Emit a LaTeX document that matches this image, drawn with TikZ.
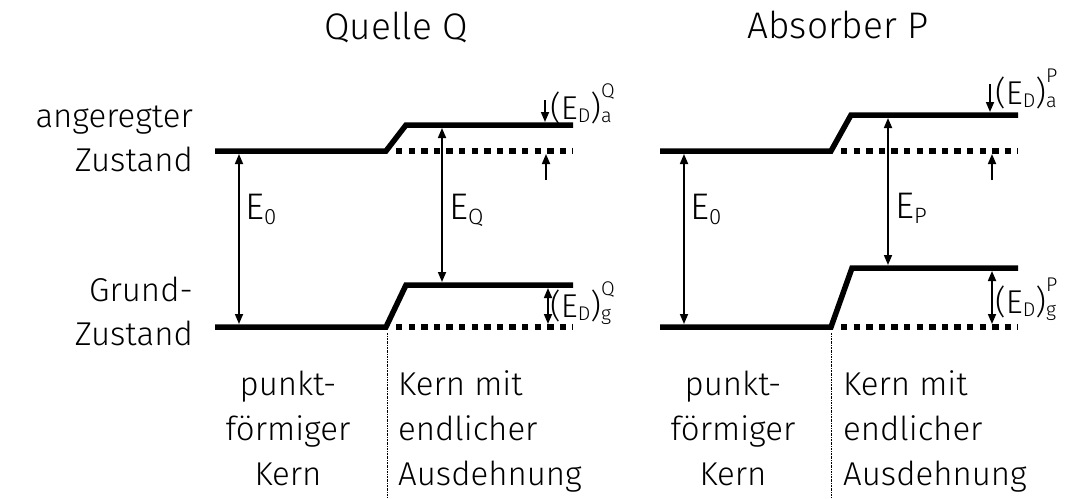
\documentclass[tikz,border=0pt]{standalone}
\usepackage{fontspec}
\setmainfont{Fira Sans}[UprightFont=* Light]
\usepackage{graphicx}
\usetikzlibrary{arrows.meta,positioning}

\newcommand{\idx}[2][-0.16em]{\raisebox{#1}{\scalebox{0.6}{#2}}}
\newcommand{\supidx}[2]{\rlap{\raisebox{0.64em}{\scalebox{0.6}{#1}}}\raisebox{-0.12em}{\scalebox{0.6}{#2}}}

\begin{document}
\begin{tikzpicture}[x=1pt, y=-1pt,
  level/.style={line width=5.5pt, line join=miter},
  shifted/.style={line width=5.5pt, dash pattern=on 6.4pt off 6.2pt},
  energy/.style={line width=1.7pt, {Triangle[length=10pt,width=8pt]}-{Triangle[length=10pt,width=8pt]}},
  tick/.style={line width=1.7pt, -{Triangle[length=10pt,width=8pt]}},
  border/.style={line width=0.9pt, dash pattern=on 2pt off 1pt on 0.6pt off 1pt},
  txt/.style={font=\fontsize{33}{45}\selectfont, inner sep=0pt},
  row/.style={font=\fontsize{33}{43.5}\selectfont, inner sep=0pt, anchor=base east, align=right},
  title/.style={font=\fontsize{37}{40}\selectfont, inner sep=0pt, anchor=base},
  elab/.style={font=\fontsize{37}{40}\selectfont, inner sep=0pt, anchor=base west},
  dlab/.style={font=\fontsize{33}{35}\selectfont, inner sep=0pt, anchor=base west}]
\useasboundingbox (0,0) rectangle (1065,498);

% titles and row labels
\node[title] (tQ) at (396,39) {Quelle Q};
\node[title] (tP) at (838,38) {Absorber P};
\node[row] (exc) at (193,171) {angeregter\\Zustand};
\node[row] (gnd) at (193,345) {Grund-\\Zustand};

% Quelle Q: levels
\coordinate (Qa0) at (215,151); \coordinate (Qa1) at (386,151);
\coordinate (Qa2) at (406,125); \coordinate (Qa3) at (573,125);
\coordinate (Qd0) at (396,151); \coordinate (Qd1) at (573,151);
\coordinate (Qg0) at (215,327); \coordinate (Qg1) at (386,327);
\coordinate (Qg2) at (406,285); \coordinate (Qg3) at (573,285);
\coordinate (Qh0) at (396,327); \coordinate (Qh1) at (573,327);
\draw[level] (Qa0) -- (Qa1) -- (Qa2) -- (Qa3);
\draw[shifted] (Qd0) -- (Qd1);
\draw[level] (Qg0) -- (Qg1) -- (Qg2) -- (Qg3);
\draw[shifted] (Qh0) -- (Qh1);

% Quelle Q: energies
\coordinate (QE0a) at (239,154); \coordinate (QE0g) at (239,324);
\coordinate (QEa) at (442,128); \coordinate (QEg) at (442,282);
\draw[energy] (QE0a) -- (QE0g);
\draw[energy] (QEa) -- (QEg);
\node[elab] (QE0) at (245,219) {E\idx{0}};
\node[elab] (QE) at (449,219) {E\idx{Q}};
\coordinate (Qda0) at (545,100); \coordinate (Qda1) at (545,122);
\coordinate (Qdb0) at (546,180); \coordinate (Qdb1) at (546,154);
\coordinate (Qdg0) at (548,288); \coordinate (Qdg1) at (548,324);
\draw[tick] (Qda0) -- (Qda1);
\draw[tick] (Qdb0) -- (Qdb1);
\draw[energy] (Qdg0) -- (Qdg1);
\node[dlab] (QDa) at (550,119) {(E\idx[-0.1em]{D})\supidx{Q}{a}};
\node[dlab] (QDg) at (550,317) {(E\idx[-0.1em]{D})\supidx{Q}{g}};

% Quelle Q: nuclei
\coordinate (Qs0) at (387,333); \coordinate (Qs1) at (387,498);
\draw[border] (Qs0) -- (Qs1);
\node[txt, anchor=base, align=center] (Qpt) at (288,485) {punkt-\\förmiger\\Kern};
\node[txt, anchor=base west, align=left] (Qext) at (398,485) {Kern mit\\endlicher\\Ausdehnung};

% Absorber P: levels
\coordinate (Pa0) at (660,151); \coordinate (Pa1) at (831,151);
\coordinate (Pa2) at (851,115); \coordinate (Pa3) at (1018,115);
\coordinate (Pd0) at (841,151); \coordinate (Pd1) at (1018,151);
\coordinate (Pg0) at (660,327); \coordinate (Pg1) at (831,327);
\coordinate (Pg2) at (852,268); \coordinate (Pg3) at (1018,268);
\coordinate (Ph0) at (841,327); \coordinate (Ph1) at (1018,327);
\draw[level] (Pa0) -- (Pa1) -- (Pa2) -- (Pa3);
\draw[shifted] (Pd0) -- (Pd1);
\draw[level] (Pg0) -- (Pg1) -- (Pg2) -- (Pg3);
\draw[shifted] (Ph0) -- (Ph1);

% Absorber P: energies
\coordinate (PE0a) at (684,154); \coordinate (PE0g) at (684,324);
\coordinate (PEa) at (888,118); \coordinate (PEg) at (888,265);
\draw[energy] (PE0a) -- (PE0g);
\draw[energy] (PEa) -- (PEg);
\node[elab] (PE0) at (690,219) {E\idx{0}};
\node[elab] (PE) at (895,218) {E\idx{P}};
\coordinate (Pda0) at (990,84); \coordinate (Pda1) at (990,112);
\coordinate (Pdb0) at (992,180); \coordinate (Pdb1) at (992,154);
\coordinate (Pdg0) at (992,271); \coordinate (Pdg1) at (992,324);
\draw[tick] (Pda0) -- (Pda1);
\draw[tick] (Pdb0) -- (Pdb1);
\draw[energy] (Pdg0) -- (Pdg1);
\node[dlab] (PDa) at (995,104) {(E\idx[-0.1em]{D})\supidx{P}{a}};
\node[dlab] (PDg) at (995,313) {(E\idx[-0.1em]{D})\supidx{P}{g}};

% Absorber P: nuclei
\coordinate (Ps0) at (831,333); \coordinate (Ps1) at (831,498);
\draw[border] (Ps0) -- (Ps1);
\node[txt, anchor=base, align=center] (Ppt) at (733,485) {punkt-\\förmiger\\Kern};
\node[txt, anchor=base west, align=left] (Pext) at (843,485) {Kern mit\\endlicher\\Ausdehnung};
\end{tikzpicture}
\end{document}
